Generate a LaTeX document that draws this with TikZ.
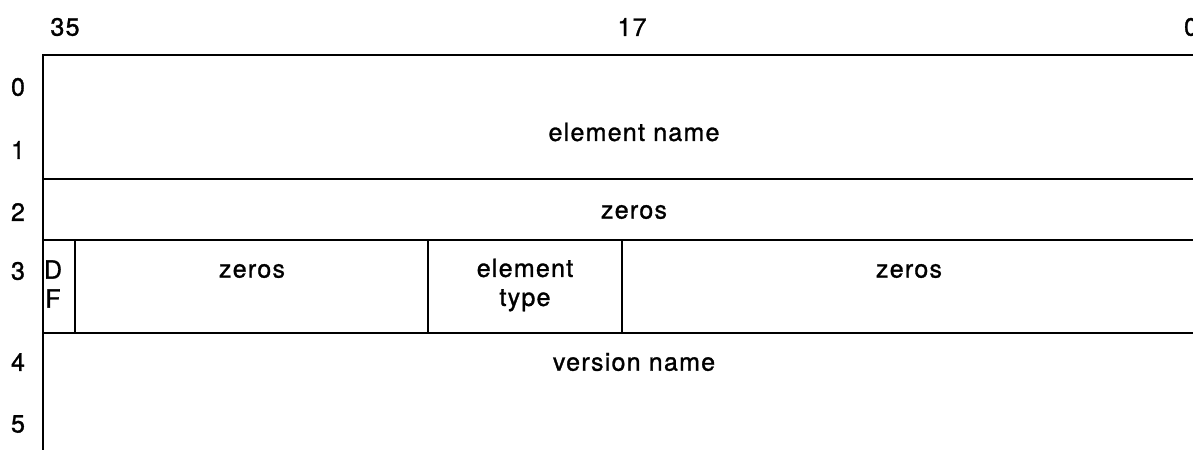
\documentclass[tikz,border=0pt]{standalone}
\usepackage{fontspec}
\setmainfont{TeX Gyre Heros}[LetterSpace=5,FakeBold=1.2]
\usepackage{tikz}
\newcommand{\fld}[1]{\fontsize{25}{27}\selectfont #1}

\begin{document}
\begin{tikzpicture}[x=1pt,y=-1pt,
		rule/.style={line width=2pt},
		lbl/.style={inner sep=0pt,font=\fld,align=center}]
		\useasboundingbox (0,0) rectangle (1193,450);
		\clip (0,0) rectangle (1193,450);
		\node[lbl] (b35) at (65,27) {35};
		\node[lbl] (b17) at (632,27) {17};
		\node[lbl] (b0) at (1191,27) {0};
		\node[lbl] (w0) at (18,87) {0};
		\node[lbl] (w1) at (18,150) {1};
		\node[lbl] (w2) at (18,212) {2};
		\node[lbl] (w3) at (18,271) {3};
		\node[lbl] (w4) at (18,362) {4};
		\node[lbl] (w5) at (18,424) {5};
		\draw [line width=2.6pt] (43,55) -- (1193,55);
		\draw [line width=1.6pt] (43,54) -- (43,450);
		\draw [rule] (43,179) -- (1193,179);
		\draw [rule] (43,240) -- (1193,240);
		\draw [rule] (43,333) -- (1193,333);
		\draw [line width=1.6pt] (75,240) -- (75,333);
		\draw [line width=1.6pt] (428,240) -- (428,333);
		\draw [line width=1.6pt] (622,240) -- (622,333);
		\node[lbl] (ename) at (634,132) {element name};
		\node[lbl] (zeroA) at (634,212) {zeros};
		\node[lbl] (df) at (53,284) {D\\[2pt]F};
		\node[lbl] (zeroB) at (252,271) {zeros};
		\node[lbl] (etype) at (525,285) {element\\[2pt]type};
		\node[lbl] (zeroC) at (909,271) {zeros};
		\node[lbl] (vname) at (634,362) {version name};
	\end{tikzpicture}
\end{document}
